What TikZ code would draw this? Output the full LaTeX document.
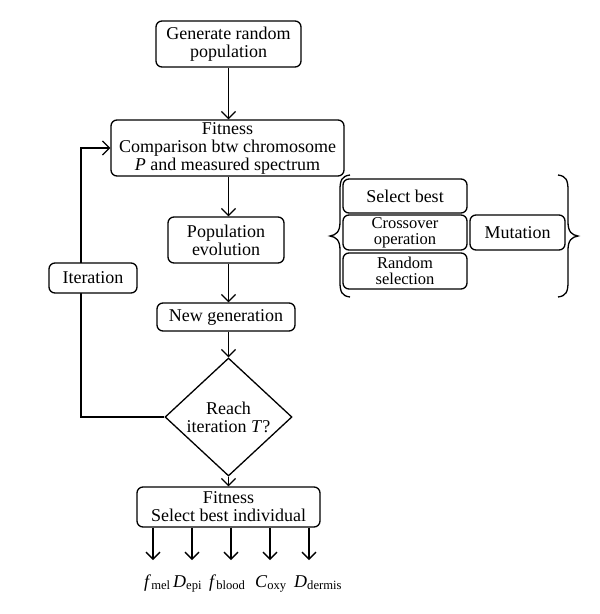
\documentclass[tikz,border=0pt]{standalone}
\usepackage{fontspec}
\setmainfont{Liberation Serif}
\usetikzlibrary{arrows.meta,shapes.geometric}
\begin{document}
\begin{tikzpicture}[x=1pt,y=-1pt,
  every node/.style={font=\fontsize{18}{18}\selectfont, inner sep=0pt, align=center},
  rbox/.style={draw, line width=1.3pt, rounded corners=6pt, fill=white},
  tight/.style={font=\fontsize{16.5}{16}\selectfont},
  arr/.style={line width=1.3pt, -{Straight Barb[length=7pt,width=14pt]}},
  ln/.style={line width=1.3pt}]
\useasboundingbox (0,0) rectangle (600,614);
\node[rbox, minimum width=145pt, minimum height=46pt] (gen) at (228.5,44) {Generate random\\population};
\node[rbox, minimum width=233pt, minimum height=56pt] (fit) at (227.5,148) {Fitness\\Comparison btw chromosome\\\textit{P} and measured spectrum};
\node[rbox, minimum width=116pt, minimum height=46pt] (pop) at (226,240) {Population\\evolution};
\node[rbox, minimum width=138pt, minimum height=28pt] (newg) at (226,317) {New generation};
\node[draw, line width=1.3pt, shape=diamond, aspect=1.08, minimum width=127pt, minimum height=118pt] (dia) at (228.5,417) {Reach\\iteration \textit{T}?};
\node[rbox, minimum width=183pt, minimum height=40pt] (sel) at (228.5,507) {Fitness\\Select best individual};
\coordinate (loopx) at (81,0);
\coordinate (ax) at (228.5,0);
\draw[arr] (gen.south -| ax) -- (fit.north -| ax);
\draw[arr] (fit.south -| ax) -- (pop.north -| ax);
\draw[arr] (pop.south -| ax) -- (newg.north -| ax);
\draw[arr] (newg.south -| ax) -- (dia.north);
\draw[arr] (dia.south) -- (sel.north -| ax);
\draw[arr] (dia.west) -- (dia.west -| loopx) |- (fit.west);
\node[rbox, minimum width=88pt, minimum height=30pt] (iter) at (93,278) {Iteration};
% right group
\node[rbox, minimum width=124pt, minimum height=34pt] (sb) at (405,196) {Select best};
\node[rbox, tight, minimum width=124pt, minimum height=35pt] (co) at (405,232.5) {Crossover\\operation};
\node[rbox, tight, minimum width=124pt, minimum height=36pt] (rs) at (405,271) {Random\\selection};
\node[rbox, minimum width=95pt, minimum height=35pt] (mu) at (517.5,232.5) {Mutation};
\draw[ln] (350,175) .. controls (342,176) and (340,180) .. (340,190) -- (340,222)
  .. controls (340,232) and (336,235) .. (330,236)
  .. controls (336,237) and (340,240) .. (340,250) -- (340,282)
  .. controls (340,292) and (342,296) .. (350,297);
\draw[ln] (558,175) .. controls (566,176) and (568,180) .. (568,190) -- (568,222)
  .. controls (568,232) and (572,235) .. (578,236)
  .. controls (572,237) and (568,240) .. (568,250) -- (568,282)
  .. controls (568,292) and (566,296) .. (558,297);
% outputs
\foreach \n/\x in {o1/153,o2/192,o3/231,o4/270,o5/309}{
  \coordinate (\n) at (\x,560);
  \draw[arr] (sel.south -| \n) -- (\n);
}
\node[anchor=base west] (l1) at (144,587) {\textit{f}\textsubscript{mel}};
\node[anchor=base west] (l2) at (173,587) {\textit{D}\textsubscript{epi}};
\node[anchor=base west] (l3) at (209,587) {\textit{f}\textsubscript{blood}};
\node[anchor=base west] (l4) at (255,587) {\textit{C}\textsubscript{oxy}};
\node[anchor=base west] (l5) at (294,587) {\textit{D}\textsubscript{dermis}};
\end{tikzpicture}
\end{document}
